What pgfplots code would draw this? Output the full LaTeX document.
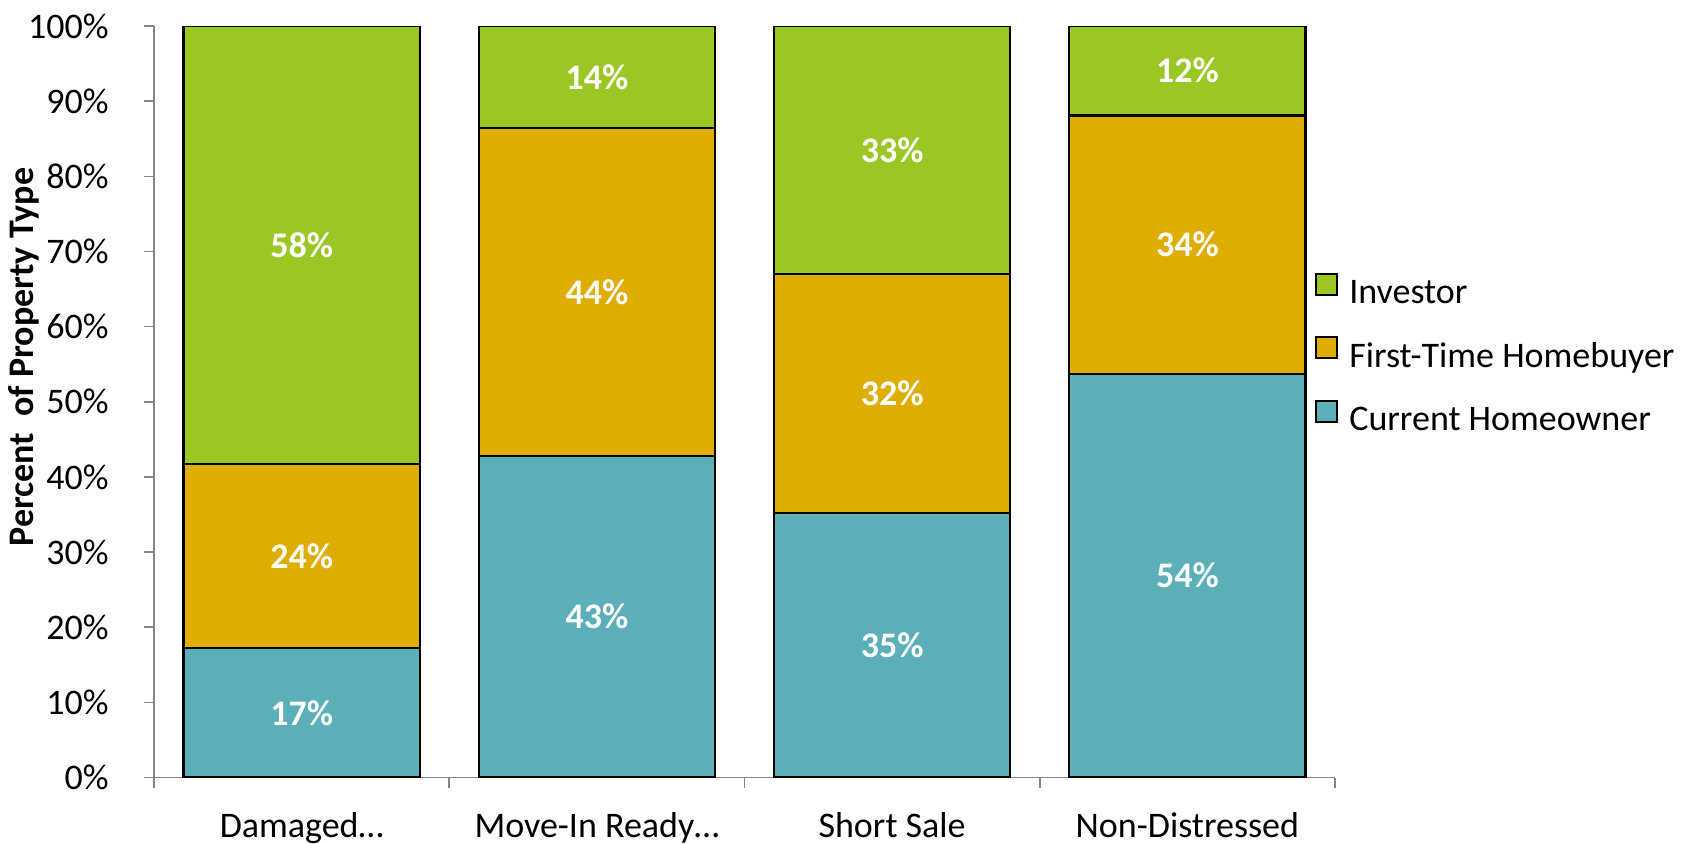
\documentclass[border=0pt]{standalone}
\usepackage{fontspec}
\setmainfont{Carlito}
\usepackage{pgfplots}
\pgfplotsset{compat=1.18}
\definecolor{cInv}{RGB}{155,199,36}
\definecolor{cFTH}{RGB}{222,173,0}
\definecolor{cCH}{RGB}{90,175,185}
\definecolor{axgray}{RGB}{134,134,134}
\pgfplotsset{sq legend/.style={legend image code/.code={\draw[##1,line width=1pt] (0pt,0.5pt) rectangle (10.5pt,11pt);}}}
\begin{document}
\fontsize{18}{21.6}\selectfont
\begin{tikzpicture}
\useasboundingbox (-77pt,-32.75pt) rectangle (768.5pt,388.75pt);
\begin{axis}[
  at={(0pt,0pt)}, anchor=south west,
  scale only axis, width=590.5pt, height=375.75pt,
  ybar stacked, bar width=0.8,
  xmin=-0.5, xmax=3.5, ymin=0, ymax=100,
  enlargelimits=false,
  axis lines*=left,
  axis line style={axgray, line width=0.8pt},
  tick align=outside, major tick length=5pt,
  tick style={axgray, line width=0.8pt},
  xtick={-0.5,0.5,1.5,2.5,3.5},
  xticklabels={},
  extra x ticks={0,1,2,3},
  extra x tick labels={Damaged…,Move-In Ready…,Short Sale,Non-Distressed},
  extra x tick style={major tick length=0pt},
  xticklabel style={anchor=base, inner sep=0pt, yshift=-29.75pt},
  ytick={0,10,...,100},
  yticklabel={\pgfmathprintnumber{\tick}\%},
  /pgf/number format/assume math mode=true,
  yticklabel style={anchor=east, inner sep=0pt, xshift=-17.5pt},
  ylabel={\bfseries Percent\ \ of Property Type},
  ylabel style={at={(axis description cs:-0.110,0.5596)}, anchor=center},
  legend style={at={(axis description cs:0.983,0.561)}, anchor=west, draw=none, fill=none, inner sep=0pt, row sep=12.25pt,
    nodes={inner sep=0pt, text height=12pt, text depth=4pt},
    /tikz/every odd column/.append style={column sep=5.5pt}},
  legend cell align=left,
  reverse legend,
]
\addplot[fill=cCH, draw=black, line width=1.2pt, sq legend] coordinates {(0,17.2) (1,42.8) (2,35.2) (3,53.7)};
\addplot[fill=cFTH, draw=black, line width=1.2pt, sq legend] coordinates {(0,24.5) (1,43.6) (2,31.8) (3,34.4)};
\addplot[fill=cInv, draw=black, line width=1.2pt, sq legend] coordinates {(0,58.3) (1,13.6) (2,33.0) (3,11.9)};
\legend{Current Homeowner, First-Time Homebuyer, Investor}
\end{axis}
\begin{axis}[
  at={(0pt,0pt)}, anchor=south west,
  scale only axis, width=590.5pt, height=375.75pt,
  xmin=-0.5, xmax=3.5, ymin=0, ymax=100,
  hide axis, clip=false,
]
\addplot[draw=none, mark=none, nodes near coords={\pgfplotspointmeta\%}, point meta=explicit symbolic,
  every node near coord/.append style={anchor=center, text=white, font=\bfseries}]
  coordinates {
  (0,8.6) [17] (0,29.45) [24] (0,70.85) [58]
  (1,21.4) [43] (1,64.6) [44] (1,93.2) [14]
  (2,17.6) [35] (2,51.1) [32] (2,83.5) [33]
  (3,26.85) [54] (3,70.9) [34] (3,94.05) [12]
  };
\end{axis}
\end{tikzpicture}
\end{document}
